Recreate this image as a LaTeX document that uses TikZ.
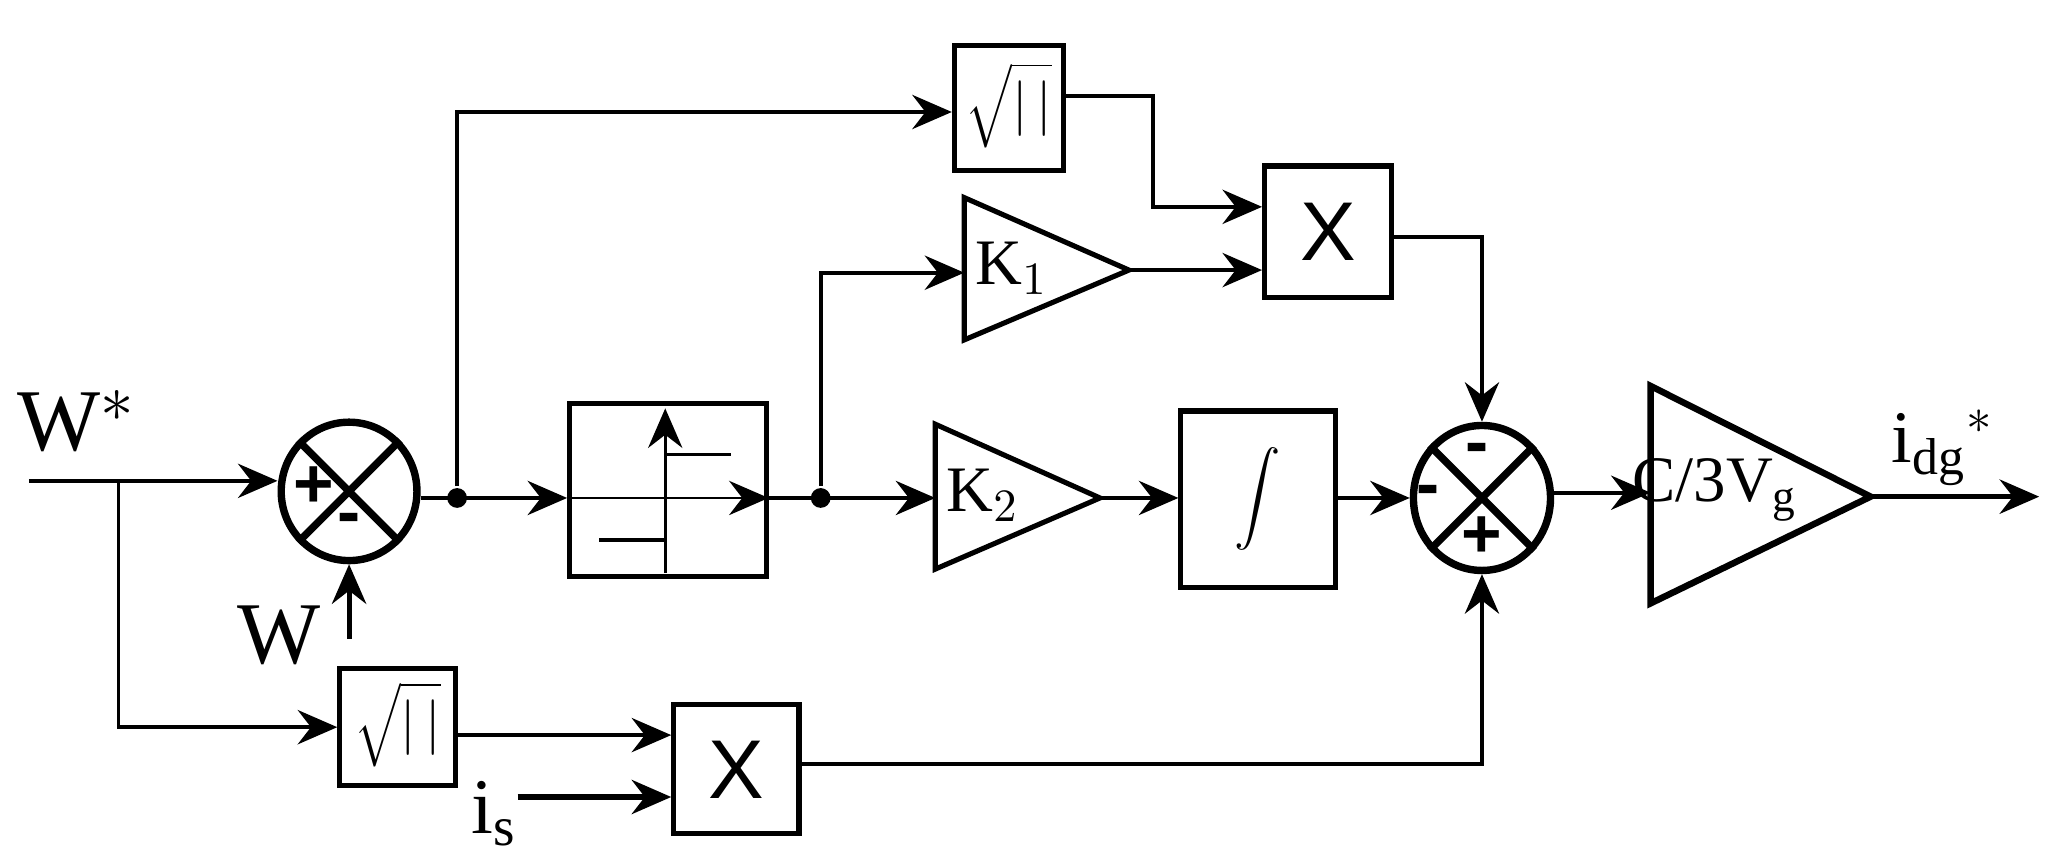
\documentclass[tikz,border=0pt]{standalone}
\usepackage{fontspec}
\setmainfont{Liberation Serif}
\newfontfamily\sans{Liberation Sans}
\usetikzlibrary{shapes.geometric, arrows.meta}
\begin{document}
\begin{tikzpicture}[x=0.01cm, y=-0.01cm,
  line width=0.8pt,
  arr/.style={-{Stealth[length=3mm,width=2.6mm,inset=1mm]}},
  box/.style={draw, line width=1.1pt, rectangle, inner sep=0pt},
  sum/.style={draw, line width=1.6pt, ellipse, inner sep=0pt},
  dot/.style={circle, fill, inner sep=0pt, minimum size=1.5mm},
  lab/.style={font=\fontsize{14}{14}\selectfont},
  sgn/.style={font=\fontsize{15}{15}\selectfont\sans\bfseries}]
\useasboundingbox (0,0) rectangle (1560,656);

% sums
\node[sum, minimum width=1.03cm, minimum height=1.05cm] (s1) at (265,373) {};
\draw[line width=1.6pt] (s1.45) -- (s1.225) (s1.135) -- (s1.315);
\node[sgn] at (238,370) {+};
\node[sgn] at (265,398) {-};
\node[sum, minimum width=1.04cm, minimum height=1.1cm] (s2) at (1125,378) {};
\draw[line width=1.6pt] (s2.45) -- (s2.225) (s2.135) -- (s2.315);
\node[sgn] at (1121,345) {-};
\node[sgn] at (1084,377) {-};
\node[sgn] at (1125,408) {+};

% boxes
\node[box, minimum width=0.83cm, minimum height=0.95cm] (sq1) at (766,82) {};
\node[font=\fontsize{12}{12}\selectfont] at (766,80) {$\sqrt{|\,|}$};
\node[box, minimum width=0.88cm, minimum height=0.89cm] (sq2) at (302,552) {};
\node[font=\fontsize{12}{12}\selectfont] at (302,550) {$\sqrt{|\,|}$};
\node[box, minimum width=0.96cm, minimum height=1.0cm, font=\fontsize{18}{18}\selectfont\sans] (x1) at (1008,176) {X};
\node[box, minimum width=0.95cm, minimum height=0.98cm, font=\fontsize{18}{18}\selectfont\sans] (x2) at (559,584) {X};
\node[box, minimum width=1.49cm, minimum height=1.31cm] (rel) at (507,372) {};
\node[box, minimum width=1.17cm, minimum height=1.34cm] (int) at (955,379) {};
\node[font=\fontsize{20}{20}\selectfont] at (955,379) {$\displaystyle\int$};

% relay characteristic
\draw[line width=0.6pt, arr] (rel.west |- 0,378) -- (rel.east |- 0,378);
\draw[line width=0.6pt, arr] (505,435) -- (505,310);
\draw[line width=0.8pt] (505,345) -- (555,345) (455,410) -- (505,410);

% gains
\draw[line width=1.1pt] (732,150) -- (857,205) -- (732,258) -- cycle;
\coordinate (k1in) at (732,207); \coordinate (k1out) at (857,205);
\node[lab] at (768,204) {K$_1$};
\draw[line width=1.1pt] (710,322) -- (835,378) -- (710,432) -- cycle;
\coordinate (k2in) at (710,378); \coordinate (k2out) at (835,378);
\node[lab] at (746,376) {K$_2$};
\draw[line width=1.4pt] (1253,293) -- (1420,377) -- (1253,458) -- cycle;
\coordinate (gin) at (1253,374); \coordinate (gout) at (1420,377);
\node[lab] at (1302,372) {C/3V$_{\mathrm g}$};

% inputs / outputs
\coordinate (win) at (22,365);
\coordinate (br) at (90,365);
\coordinate (wb) at (265,485);
\coordinate (isin) at (393,605);
\coordinate (out) at (1548,377);
\node[font=\fontsize{19}{19}\selectfont] at (58,320) {W$^*$};
\node[font=\fontsize{19}{19}\selectfont] at (212,482) {W};
\node[font=\fontsize{17}{17}\selectfont] at (375,618) {i$_{\mathrm s}$};
\node[font=\fontsize{16}{16}\selectfont] at (1475,340) {i$_{\mathrm{dg}}$$^*$};

% connectors
\draw[arr] (win) -- (s1.west |- win);
\draw[arr] (br) |- (sq2.west);
\draw[arr, line width=1.1pt] (wb) -- (s1.south);
\draw[arr] (s1.east |- 0,378) -- (rel.west |- 0,378);
\node[dot] (d1) at (347,378) {};
\draw[arr] (d1) |- (sq1.west |- 0,85);
\draw[arr] (sq1.east |- 0,73) -- (875,73) |- (x1.west |- 0,157);
\draw[arr] (rel.east |- 0,378) -- (k2in);
\node[dot] (d2) at (623,378) {};
\draw[arr] (d2) |- (k1in);
\draw[arr] (k1out) -- (x1.west |- k1out);
\draw[arr] (x1.east |- 0,180) -| (s2.north);
\draw[arr] (k2out) -- (int.west |- k2out);
\draw[arr] (int.east |- 0,378) -- (s2.west);
\draw[arr] (s2.east |- gin) -- (gin);
\draw[arr, line width=1.1pt] (gout) -- (out);
\draw[arr] (sq2.east |- 0,558) -- (x2.west |- 0,558);
\draw[arr, line width=1.1pt] (isin) -- (x2.west |- isin);
\draw[arr] (x2.east |- 0,580) -| (s2.south);
\end{tikzpicture}
\end{document}
